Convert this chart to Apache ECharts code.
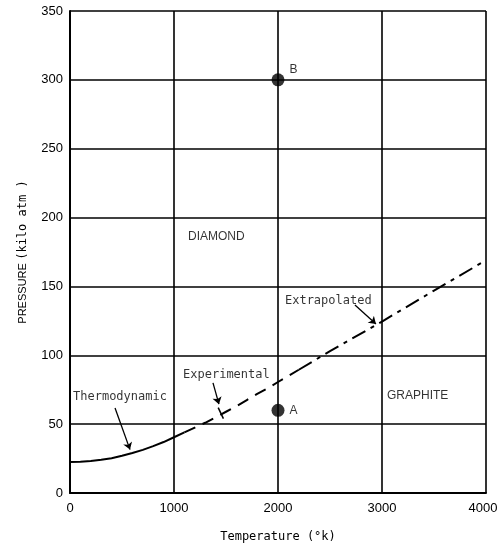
<!DOCTYPE html>
<html>
<head>
<meta charset="utf-8">
<script src="https://cdn.jsdelivr.net/npm/echarts@6/dist/echarts.min.js"></script>
<style>
  html, body { margin: 0; padding: 0; background: #fff; }
  #main { width: 497px; height: 546px; }
</style>
</head>
<body>
<div id="main"></div>
<script>
// 热力学曲线 (实线)
var thermo = [[0, 22.5], [100, 22.7], [200, 23.2], [300, 24.1], [400, 25.3], [500, 27], [600, 29],
  [700, 31.3], [800, 34], [900, 37], [1000, 40.5], [1100, 44]];
// 实验段 (虚线)
var experimental = [[1100, 44], [1200, 47.5], [1300, 51], [1400, 55], [1500, 59], [1600, 63],
  [1700, 67.5], [1800, 72], [1900, 76], [2000, 80.6], [2100, 85], [2200, 89.5]];
// 外推段 (点划线)
var extrapolated = [[2200, 89.5], [2500, 103], [3000, 124.5], [3500, 147], [4000, 169]];
// 点 A / B
var points = [[2000, 300, 'B'], [2000, 60, 'A']];
// 文字标注
var notes = [
  [1135, 186, 'DIAMOND', 'sans'],
  [3048, 70.5, 'GRAPHITE', 'sans'],
  [29, 69.5, 'Thermodynamic', 'mono'],
  [1087, 85.5, 'Experimental', 'mono'],
  [2067, 139.5, 'Extrapolated', 'mono']
];
// 箭头
var arrows = [
  [[433, 61.7], [577, 31.5]],
  [[1375, 80], [1432, 64.5]],
  [[2740, 136.5], [2942, 122.7]]
];
// 短横标记
var ticks = [
  [[1425, 62], [1475, 54]]
];
var xTicks = [0, 1000, 2000, 3000, 4000];
var yTicks = [0, 50, 100, 150, 200, 250, 300, 350];

var chart = echarts.init(document.getElementById('main'));

var option = {
  animation: false,
  grid: { left: 70, right: 11, top: 11, bottom: 53, outerBoundsMode: 'none' },
  xAxis: {
    type: 'value', min: xTicks[0], max: xTicks[xTicks.length - 1], interval: 1000,
    name: 'Temperature (°k)', nameLocation: 'middle', nameGap: 38,
    nameTextStyle: { fontFamily: 'DejaVu Sans Mono', fontSize: 12, color: '#000' },
    axisLine: { lineStyle: { color: '#000', width: 2 } },
    axisTick: { show: false },
    axisLabel: {
      color: '#000', fontSize: 13, fontFamily: 'Liberation Sans', margin: 9,
      formatter: function (v) {
        return v === xTicks[xTicks.length - 1] ? '{r|' + v + '}' : String(v);
      },
      rich: { r: { fontSize: 13, fontFamily: 'Liberation Sans', color: '#000', padding: [0, 6, 0, 0] } }
    },
    splitLine: { lineStyle: { color: '#000', width: 1.6 } }
  },
  yAxis: {
    type: 'value', min: yTicks[0], max: yTicks[yTicks.length - 1], interval: 50,
    name: '{a|PRESSURE} {b|(kilo atm )}', nameLocation: 'middle', nameGap: 41,
    nameTextStyle: {
      color: '#000',
      rich: {
        a: { fontFamily: 'Liberation Sans', fontSize: 11, color: '#000' },
        b: { fontFamily: 'DejaVu Sans Mono', fontSize: 12, color: '#000' }
      }
    },
    axisLine: { lineStyle: { color: '#000', width: 2 } },
    axisTick: { show: false },
    axisLabel: { color: '#000', fontSize: 13, fontFamily: 'Liberation Sans', margin: 7 },
    splitLine: { lineStyle: { color: '#000', width: 1.6 } }
  },
  series: [
    {
      type: 'line', data: thermo, symbol: 'none',
      lineStyle: { color: '#000', width: 2 }
    },
    {
      type: 'line', data: experimental, symbol: 'none',
      lineStyle: { color: '#000', width: 2, type: [12, 8] }
    },
    {
      type: 'line', data: extrapolated, symbol: 'none',
      lineStyle: { color: '#000', width: 2, type: [15, 6, 4, 6] }
    },
    {
      type: 'scatter', symbolSize: 13,
      itemStyle: { color: '#000' },
      data: points.map(function (p) {
        return {
          value: [p[0], p[1]],
          label: {
            show: true, position: 'right', distance: 5,
            offset: p[2] === 'B' ? [0, -10] : [0, 0],
            formatter: p[2],
            fontFamily: 'Liberation Sans', fontSize: 12, color: '#000'
          }
        };
      })
    },
    {
      type: 'scatter', symbolSize: 0, silent: true,
      data: notes.map(function (n) {
        return {
          value: [n[0], n[1]],
          label: {
            show: true, position: 'right', distance: 0,
            formatter: n[2],
            fontFamily: n[3] === 'mono' ? 'DejaVu Sans Mono' : 'Liberation Sans',
            fontSize: 12, color: '#000'
          }
        };
      })
    },
    {
      type: 'lines', coordinateSystem: 'cartesian2d', silent: true,
      symbol: ['none', 'arrow'], symbolSize: 7,
      lineStyle: { color: '#000', width: 1.3, opacity: 1 },
      data: arrows.map(function (a) { return { coords: a }; })
    },
    {
      type: 'lines', coordinateSystem: 'cartesian2d', silent: true,
      symbol: 'none',
      lineStyle: { color: '#000', width: 1.5, opacity: 1 },
      data: ticks.map(function (a) { return { coords: a }; })
    }
  ]
};

chart.setOption(option);
</script>
</body>
</html>
